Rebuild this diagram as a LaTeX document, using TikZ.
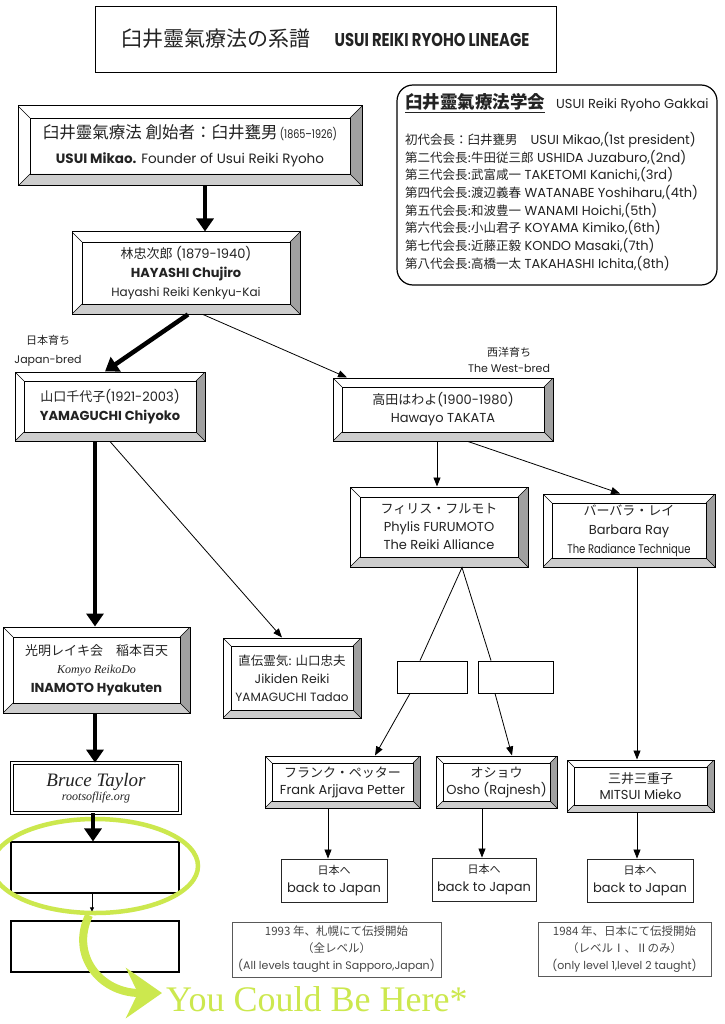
\documentclass[tikz,border=0pt]{standalone}
\usepackage{fontspec}
\setmainfont{Poppins}
\newfontfamily\cjk{Noto Sans CJK JP}
\newfontfamily\popn[FakeStretch=0.8]{Poppins}
\newfontfamily\lserif{Liberation Serif}
\usetikzlibrary{arrows.meta,calc,shapes.geometric}
\definecolor{grn}{RGB}{204,232,78}
\definecolor{bevdark}{RGB}{160,160,160}
\definecolor{bevlight}{RGB}{205,205,205}
\definecolor{txt}{RGB}{35,35,35}
\definecolor{notetxt}{RGB}{70,70,70}
\newcommand\J[1]{{\cjk #1}}
\newcommand\bevelpic[1]{%
  \path (path picture bounding box.north west) coordinate (bNW)
        (path picture bounding box.north east) coordinate (bNE)
        (path picture bounding box.south west) coordinate (bSW)
        (path picture bounding box.south east) coordinate (bSE);
  \fill[bevdark] (bNE) -- (bSE) -- ([xshift=-#1,yshift=#1]bSE) -- ([xshift=-#1,yshift=-#1]bNE) -- cycle;
  \fill[bevlight] (bSW) -- (bSE) -- ([xshift=-#1,yshift=#1]bSE) -- ([xshift=#1,yshift=#1]bSW) -- cycle;
  \draw[line width=0.8pt] ([xshift=#1,yshift=-#1]bNW) rectangle ([xshift=-#1,yshift=#1]bSE);
  \draw[line width=0.6pt] (bNW) -- ([xshift=#1,yshift=-#1]bNW)
        (bNE) -- ([xshift=-#1,yshift=-#1]bNE)
        (bSW) -- ([xshift=#1,yshift=#1]bSW)
        (bSE) -- ([xshift=-#1,yshift=#1]bSE);
}
\begin{document}
\begin{tikzpicture}[x=1pt,y=-1pt,
  bev/.style={draw=black, line width=1pt, fill=white, inner sep=0pt, align=center, text=txt,
              font=\fontsize{13}{19}\selectfont, path picture={\bevelpic{#1}}},
  plainbox/.style={draw=black, line width=1.1pt, fill=white, inner sep=0pt},
  backbox/.style={draw=black!85, line width=0.9pt, fill=white, inner sep=0pt, align=center, text=txt,
              font=\fontsize{13}{18}\selectfont},
  notebox/.style={draw=black!65, line width=0.9pt, fill=white, inner sep=0pt, align=center, text=notetxt,
              font=\fontsize{11}{17}\selectfont},
  bigarrow/.style={line width=4.5pt, -{Triangle[length=13pt,width=17pt]}},
  thinarrow/.style={line width=0.8pt, -{Triangle[length=9pt,width=7pt]}},
  thinline/.style={line width=0.8pt},
  lbl/.style={inner sep=0pt, align=center, text=txt, font=\fontsize{11}{17}\selectfont}
]
\useasboundingbox (0,0) rectangle (724,1024);
\fill[white] (0,0) rectangle (724,1024);

% title
\node[draw=black, line width=0.9pt, minimum width=461pt, minimum height=66pt, inner sep=0pt, text=txt] (title) at (325.5,39)
  {\J{\fontsize{21}{24}\selectfont 臼井靈氣療法の系譜}\hspace{24pt}{\popn\bfseries\fontsize{18.5}{20}\selectfont USUI REIKI RYOHO LINEAGE}};

% founder
\node[bev=12pt, minimum width=344pt, minimum height=80pt, font=\fontsize{13.5}{25}\selectfont] (usui) at (190,146)
  {\J{\fontsize{16.5}{25}\selectfont 臼井靈氣療法 創始者：臼井甕男}\,{\popn\fontsize{12}{25}\selectfont (1865–1926)}\\\textbf{USUI Mikao.} Founder of Usui Reiki Ryoho};

% gakkai
\node[draw=black, line width=1.2pt, rounded corners=16pt, minimum width=320pt, minimum height=200pt] (gak) at (557,185) {};
\node[anchor=west, inner sep=0pt, font=\fontsize{13}{14}\selectfont, text=txt] (gakt) at (405,103)
  {\underline{\J{\bfseries\fontsize{17.5}{18}\selectfont 臼井靈氣療法学会}}\hspace{11pt}USUI Reiki Ryoho Gakkai};
\node[anchor=north west, inner sep=0pt, align=left, font=\fontsize{13}{17.7}\selectfont, text=txt] (gakl) at (405,132)
  {\J{\fontsize{12.5}{17.7}\selectfont 初代会長：臼井甕男}\quad USUI Mikao,(1st president)\\
   \J{\fontsize{12.5}{17.7}\selectfont 第二代会長:牛田従三郎} USHIDA Juzaburo,(2nd)\\
   \J{\fontsize{12.5}{17.7}\selectfont 第三代会長:武富咸一} TAKETOMI Kanichi,(3rd)\\
   \J{\fontsize{12.5}{17.7}\selectfont 第四代会長:渡辺義春} WATANABE Yoshiharu,(4th)\\
   \J{\fontsize{12.5}{17.7}\selectfont 第五代会長:和波豊一} WANAMI Hoichi,(5th)\\
   \J{\fontsize{12.5}{17.7}\selectfont 第六代会長:小山君子} KOYAMA Kimiko,(6th)\\
   \J{\fontsize{12.5}{17.7}\selectfont 第七代会長:近藤正毅} KONDO Masaki,(7th)\\
   \J{\fontsize{12.5}{17.7}\selectfont 第八代会長:高橋一太} TAKAHASHI Ichita,(8th)};

% hayashi
\node[bev=10pt, minimum width=228pt, minimum height=82pt] (hay) at (186,273)
  {\J{林忠次郎} (1879-1940)\\\textbf{HAYASHI Chujiro}\\{\fontsize{12}{19}\selectfont Hayashi Reiki Kenkyu-Kai}};

% labels
\node[lbl, font=\fontsize{11}{19}\selectfont] (jb) at (48,351) {\J{日本育ち}\\Japan-bred};
\node[lbl, font=\fontsize{11}{16}\selectfont] (wb) at (509,360) {\J{西洋育ち}\\The West-bred};

% second row
\node[bev=9pt, minimum width=190pt, minimum height=69pt] (yama) at (110,406.5)
  {\J{山口千代子}(1921-2003)\\\textbf{YAMAGUCHI Chiyoko}};
\node[bev=9pt, minimum width=220pt, minimum height=63pt, font=\fontsize{13}{18}\selectfont] (tak) at (443,409.5)
  {\J{高田はわよ}(1900-1980)\\Hawayo TAKATA};

% third row
\node[bev=10pt, minimum width=178pt, minimum height=80pt, font=\fontsize{13}{18}\selectfont] (fur) at (439,527)
  {\J{フィリス・フルモト}\\Phylis FURUMOTO\\The Reiki Alliance};
\node[bev=9pt, minimum width=172pt, minimum height=73pt, font=\fontsize{13}{19}\selectfont] (bar) at (629,530.5)
  {\J{バーバラ・レイ}\\Barbara Ray\\{\popn\fontsize{12.5}{19}\selectfont The Radiance Technique}};

% left column
\node[bev=10pt, minimum width=187pt, minimum height=86pt, font=\fontsize{13}{18.5}\selectfont] (ina) at (96.5,670)
  {\J{光明レイキ会\quad 稲本百天}\\{\lserif\itshape\fontsize{12}{18.5}\selectfont Komyo ReikoDo}\\\textbf{INAMOTO Hyakuten}};
\node[bev=8pt, minimum width=138pt, minimum height=80pt, font=\fontsize{12.5}{18}\selectfont] (jik) at (292,678)
  {\J{直伝霊気: 山口忠夫}\\Jikiden Reiki\\{\fontsize{12}{18}\selectfont YAMAGUCHI Tadao}};

% empty boxes
\node[plainbox, line width=0.9pt, minimum width=70pt, minimum height=32pt] (e1) at (432,677) {};
\node[plainbox, line width=0.9pt, minimum width=75pt, minimum height=32pt] (e2) at (515.5,677) {};

% fourth row
\node[bev=7pt, minimum width=155pt, minimum height=52pt, font=\fontsize{13}{17}\selectfont] (frank) at (342.5,782)
  {\J{フランク・ペッター}\\Frank Arjjava Petter};
\node[bev=7pt, minimum width=121pt, minimum height=52pt, font=\fontsize{13}{17}\selectfont] (osho) at (496.5,782)
  {\J{オショウ}\\Osho (Rajnesh)};
\node[bev=7pt, minimum width=147pt, minimum height=52pt, font=\fontsize{13}{16}\selectfont] (mit) at (640.5,786)
  {\J{三井三重子}\\MITSUI Mieko};

% back to japan
\node[backbox, minimum width=106pt, minimum height=43pt] (back1) at (334,880.5) {\J{\fontsize{11}{18}\selectfont 日本へ}\\back to Japan};
\node[backbox, minimum width=104pt, minimum height=43pt] (back2) at (484,879.5) {\J{\fontsize{11}{18}\selectfont 日本へ}\\back to Japan};
\node[backbox, minimum width=106pt, minimum height=43pt] (back3) at (640,880.5) {\J{\fontsize{11}{18}\selectfont 日本へ}\\back to Japan};

% notes
\node[notebox, minimum width=209pt, minimum height=55pt] (note1) at (336.5,949.5)
  {\J{\fontsize{11.5}{17}\selectfont 1993 年、札幌にて伝授開始}\\\J{\fontsize{11.5}{17}\selectfont （全レベル）}\\(All levels taught in Sapporo,Japan)};
\node[notebox, minimum width=173pt, minimum height=54pt] (note2) at (624.5,949)
  {\J{\fontsize{11.5}{17}\selectfont 1984 年、日本にて伝授開始}\\\J{\fontsize{11.5}{17}\selectfont （レベルⅠ、Ⅱのみ）}\\(only level 1,level 2 taught)};

% bruce taylor and empty boxes
\node[draw=black, line width=0.7pt, double, double distance=2pt, fill=white, minimum width=168pt, minimum height=50pt, inner sep=0pt, align=center, text=txt] (bruce) at (96,788)
  {{\lserif\itshape\fontsize{19}{21}\selectfont Bruce Taylor}\\{\lserif\itshape\fontsize{12}{21}\selectfont rootsoflife.org}};
\node[plainbox, minimum width=168pt, minimum height=51pt] (e3) at (95,867.5) {};
\node[plainbox, minimum width=168pt, minimum height=51pt] (e4) at (95,946.5) {};

% green highlight
\node[draw=grn, line width=4.5pt, ellipse, minimum width=206pt, minimum height=94pt, inner sep=0pt] (glow) at (95,866) {};
\node[anchor=west, text=grn, font=\lserif\fontsize{36}{38}\selectfont, inner sep=0pt] (you) at (166,999) {You Could Be Here*};
\draw[grn, line width=8pt, -{Stealth[length=36pt,width=50pt,inset=12pt]}]
  ([xshift=-6pt]glow.south) .. controls (70,955) and (100,993) .. ([xshift=-4pt,yshift=6pt]you.west);

% connectors
\draw[bigarrow] ([xshift=15pt]usui.south) -- ([xshift=15pt]usui.south |- hay.north);
\draw[bigarrow] ([xshift=2pt]hay.south) -- ([xshift=-5pt]yama.north);
\draw[thinarrow] ([xshift=17pt]hay.south) -- ([xshift=-96pt]tak.north);
\draw[bigarrow] ([xshift=-15pt]yama.south) -- ([xshift=-15pt]yama.south |- ina.north);
\draw[thinarrow] (yama.south) -- ([xshift=-10pt]jik.north);
\draw[thinarrow] ([xshift=-6pt]tak.south) -- ([xshift=-6pt]tak.south |- fur.north);
\draw[thinarrow] ([xshift=25pt]tak.south) -- ([xshift=-9pt]bar.north);
\draw[thinline] ([xshift=-12pt]e1.north) -- ([xshift=23pt]fur.south) -- ([xshift=-24.5pt]e2.north);
\draw[thinarrow] ([xshift=-22pt]e1.south) -- ([xshift=32.5pt]frank.north);
\draw[thinarrow] ([xshift=-20.5pt]e2.south) -- ([xshift=15.5pt]osho.north);
\draw[thinarrow] ([xshift=8pt]bar.south) -- ([xshift=8pt]bar.south |- mit.north);
\draw[thinarrow] ([xshift=-14.5pt]frank.south) -- ([xshift=-14.5pt]frank.south |- back1.north);
\draw[thinarrow] ([xshift=-14.5pt]osho.south) -- ([xshift=-14.5pt]osho.south |- back2.north);
\draw[thinarrow] ([xshift=-3.5pt]mit.south) -- ([xshift=-3.5pt]mit.south |- back3.north);
\draw[bigarrow] ([xshift=-1.5pt]ina.south) -- ([xshift=-1.5pt]ina.south |- bruce.north);
\draw[bigarrow] ([xshift=-3pt]bruce.south) -- ([xshift=-3pt]bruce.south |- e3.north);
\draw[line width=0.7pt, -{Triangle[length=4pt,width=4pt]}] ([xshift=-3pt]e3.south) -- ([xshift=-3pt,yshift=9pt]e4.north);
\end{tikzpicture}
\end{document}
